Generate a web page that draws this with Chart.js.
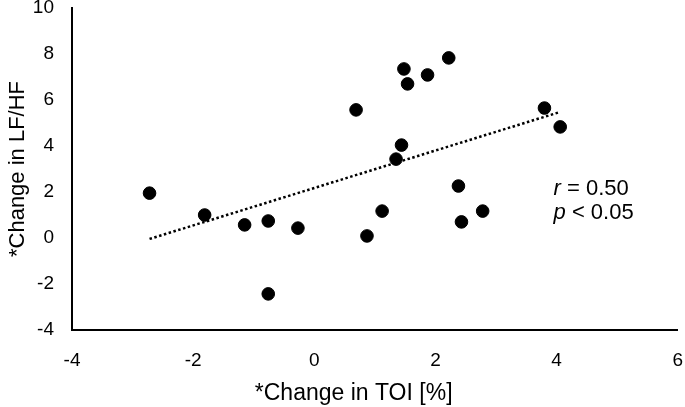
<!DOCTYPE html>
<html lang="en">
<head>
    <meta charset="UTF-8">
    <title>Change in LF/HF vs TOI</title>
    <script src="https://cdn.jsdelivr.net/npm/chart.js"></script>
    <style>
        html, body { margin: 0; padding: 0; background: #fff; }
        .chart-container { width: 685px; height: 407px; }
    </style>
</head>
<body>
    <div class="chart-container">
        <canvas id="scatterChart"></canvas>
    </div>

    <script>
        // values
        const toiChange = [-2.72, -1.81, -1.15, -0.76, -0.76, -0.27, 0.69, 0.87, 1.12, 1.35,
                           1.44, 1.48, 1.54, 1.87, 2.22, 2.38, 2.43, 2.78, 3.80, 4.06];
        const lfhfChange = [1.95, 1.00, 0.57, 0.74, -2.43, 0.43, 5.57, 0.09, 1.17, 3.43,
                            4.04, 7.35, 6.70, 7.09, 7.83, 2.26, 0.70, 1.17, 5.65, 4.83];
        const trendX = [-2.72, 4.06];
        const trendY = [-0.04, 5.48];
        const statLines = [['r', ' = 0.50'], ['p', ' < 0.05']];
        const statAnchor = { x: 3.95, y: [2.13, 1.09] };
        const xTitle = '*Change in TOI [%]';
        const yTitle = '*Change in LF/HF';

        const FONT = 'Arial, "Liberation Sans", sans-serif';

        // r / p annotation and the x title (sits a bit left of centre in the original)
        const textPlugin = {
            id: 'texts',
            afterDraw(chart) {
                const ctx = chart.ctx;
                const xs = chart.scales.x, ys = chart.scales.y;
                const px = xs.getPixelForValue(statAnchor.x);
                ctx.save();
                ctx.fillStyle = '#000';
                ctx.textBaseline = 'middle';
                statLines.forEach((line, i) => {
                    const py = ys.getPixelForValue(statAnchor.y[i]);
                    ctx.font = 'italic 22px ' + FONT;
                    ctx.fillText(line[0], px, py);
                    const w = ctx.measureText(line[0]).width;
                    ctx.font = '22px ' + FONT;
                    ctx.fillText(line[1], px + w, py);
                });
                ctx.font = '23px ' + FONT;
                ctx.textAlign = 'center';
                ctx.fillText(xTitle, xs.getPixelForValue(0.65), chart.height - 13);
                ctx.restore();
            }
        };

        const ctx = document.getElementById('scatterChart').getContext('2d');
        new Chart(ctx, {
            type: 'scatter',
            data: {
                datasets: [{
                    data: toiChange.map((x, i) => ({ x: x, y: lfhfChange[i] })),
                    backgroundColor: '#000',
                    borderColor: '#000',
                    pointRadius: 6.3,
                    pointHoverRadius: 6.3
                }, {
                    type: 'line',
                    data: trendX.map((x, i) => ({ x: x, y: trendY[i] })),
                    borderColor: '#000',
                    borderWidth: 2.5,
                    borderDash: [2.5, 2.5],
                    pointRadius: 0,
                    fill: false
                }]
            },
            options: {
                responsive: true,
                maintainAspectRatio: false,
                animation: false,
                layout: { padding: 0 },
                plugins: {
                    legend: { display: false },
                    tooltip: { enabled: false }
                },
                scales: {
                    x: {
                        type: 'linear',
                        min: -4, max: 6,
                        grid: { display: false, drawTicks: false },
                        border: { display: true, color: '#000', width: 2 },
                        ticks: { stepSize: 2, color: '#000', padding: 19, font: { family: FONT, size: 19 } },
                        afterFit(scale) { scale.height = 77; scale.paddingRight = 5; }
                    },
                    y: {
                        min: -4, max: 10,
                        grid: { display: false, drawTicks: false },
                        border: { display: true, color: '#000', width: 2 },
                        ticks: { stepSize: 2, color: '#000', padding: 18, font: { family: FONT, size: 19 } },
                        title: { display: true, text: yTitle, color: '#000', font: { family: FONT, size: 22 }, padding: { top: 5, bottom: 0 } },
                        afterFit(scale) { scale.width = 72; scale.paddingTop = 8; }
                    }
                }
            },
            plugins: [textPlugin]
        });
    </script>
</body>
</html>
